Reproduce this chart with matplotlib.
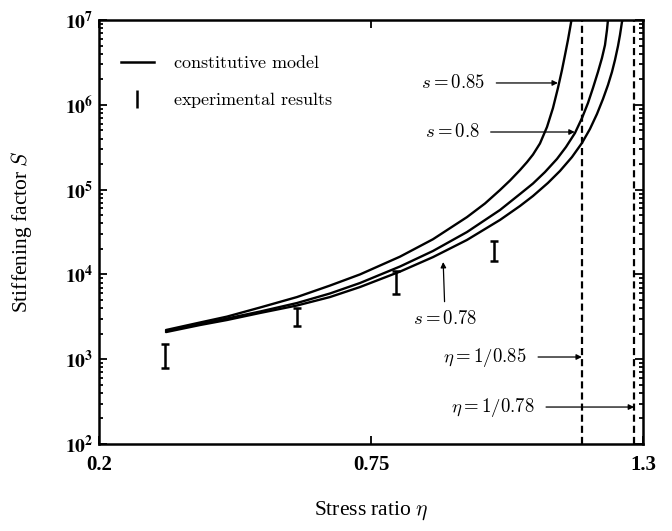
import matplotlib
matplotlib.use("Agg")
import matplotlib.pyplot as plt
from matplotlib.lines import Line2D
from matplotlib.ticker import LogLocator, NullFormatter

plt.rcParams['font.family'] = 'serif'
plt.rcParams['font.serif'] = ['Liberation Serif', 'DejaVu Serif']
plt.rcParams['mathtext.fontset'] = 'cm'

# constitutive model, points (stress ratio, stiffening factor)
eta_085 = [0.3355, 0.4042, 0.4588, 0.5256, 0.6004, 0.6671, 0.7278, 0.8087, 0.8754,
           0.9441, 0.9805, 1.0109, 1.0311, 1.0513, 1.0655, 1.0776, 1.0917, 1.1059,
           1.1180, 1.1281, 1.1362, 1.1423, 1.1483, 1.1544, 1.1564]
S_085 = [2210, 2710, 3180, 4070, 5410, 7390, 10000, 16200, 26000,
         47400, 68600, 98900, 128000, 170000, 211000, 259000, 350000, 547000,
         916000, 1.58e6, 2.57e6, 3.86e6, 5.81e6, 9.23e6, 1.08e7]

eta_080 = [0.3355, 0.4042, 0.4588, 0.5256, 0.6004, 0.6671, 0.7278, 0.8087, 0.8754,
           0.9441, 1.0109, 1.0513, 1.0776, 1.1018, 1.1261, 1.1443, 1.1625, 1.1767,
           1.1888, 1.1989, 1.2090, 1.2171, 1.2232, 1.2272, 1.2292]
S_080 = [2150, 2600, 3020, 3650, 4600, 5960, 7920, 12400, 18900,
         31600, 57500, 88700, 118000, 161000, 230000, 318000, 465000, 698000,
         1.05e6, 1.58e6, 2.44e6, 3.57e6, 5.07e6, 7.62e6, 1.0e7]

eta_078 = [0.3355, 0.4042, 0.4588, 0.5256, 0.6004, 0.6671, 0.7278, 0.8087, 0.8754,
           0.9441, 1.0109, 1.0513, 1.0776, 1.1079, 1.1322, 1.1564, 1.1767, 1.1928,
           1.2070, 1.2191, 1.2292, 1.2373, 1.2434, 1.2495, 1.2535, 1.2575, 1.2590]
S_078 = [2090, 2530, 2900, 3510, 4300, 5410, 7100, 10800, 16000,
         25500, 43900, 64100, 84100, 120000, 166000, 242000, 355000, 519000,
         780000, 1.17e6, 1.71e6, 2.44e6, 3.38e6, 4.93e6, 6.65e6, 9.47e6, 1.0e7]

# experimental results (low / high end of each bar)
eta_exp = [0.333, 0.600, 0.801, 0.999]
S_exp_lo = [790, 2450, 5900, 14400]
S_exp_hi = [1510, 4000, 11000, 24800]

eta_limits = [1 / 0.85, 1 / 0.78]

xticks = [0.2, 0.75, 1.3]
xtick_labels = ['0.2', '0.75', '1.3']
yticks = [1e2, 1e3, 1e4, 1e5, 1e6, 1e7]
ytick_labels = [r'$\mathbf{10^{%d}}$' % k for k in range(2, 8)]

fig = plt.figure(figsize=(6.72, 5.31), dpi=100)
ax = fig.add_axes([0.1473, 0.1638, 0.8095, 0.7985])

# model curves
for eta, S in [(eta_085, S_085), (eta_080, S_080), (eta_078, S_078)]:
    ax.plot(eta, S, color='black', lw=1.7, solid_capstyle='round',
            solid_joinstyle='round')

# experiments
ax.errorbar(eta_exp, S_exp_lo,
            yerr=[[0] * len(S_exp_lo), [h - l for h, l in zip(S_exp_hi, S_exp_lo)]],
            fmt='none', ecolor='black', elinewidth=1.8, capsize=3.2, capthick=1.8)

# asymptotes
for e in eta_limits:
    ax.axvline(e, color='black', lw=1.6, ls=(0, (3.2, 1.8)))

ax.set_yscale('log')
ax.set_xlim(0.2, 1.3)
ax.set_ylim(1e2, 1e7)

ax.set_xticks(xticks)
ax.set_xticklabels(xtick_labels, fontsize=15, fontweight='bold')
ax.set_yticks(yticks)
ax.set_yticklabels(ytick_labels, fontsize=14)
for t in ax.get_yticklabels():
    t.set_math_fontfamily('stix')
ax.yaxis.set_minor_locator(LogLocator(base=10, subs=range(2, 10), numticks=20))
ax.yaxis.set_minor_formatter(NullFormatter())
ax.tick_params(which='both', direction='in', top=True, right=True, width=1.3)
ax.tick_params(which='major', length=6, pad=4)
ax.tick_params(which='minor', length=3)
ax.tick_params(axis='x', pad=8)
for sp in ax.spines.values():
    sp.set_linewidth(1.8)

ax.set_xlabel(r'Stress ratio $\eta$', fontsize=15.5)
ax.xaxis.set_label_coords(0.5, -0.13)
ax.set_ylabel(r'Stiffening factor $S$', fontsize=15.5)
ax.yaxis.set_label_coords(-0.12, 0.5)

arrow = dict(arrowstyle='-|>', color='black', lw=0.9, mutation_scale=8,
             shrinkA=6, shrinkB=0)
fs = 13.5
ax.annotate(r'$s = 0.85$', xy=(1.128, 1.81e6), xytext=(0.916, 1.81e6),
            ha='center', va='center', fontsize=fs, arrowprops=arrow)
ax.annotate(r'$s = 0.8$', xy=(1.162, 4.78e5), xytext=(0.914, 4.78e5),
            ha='center', va='center', fontsize=fs, arrowprops=arrow)
ax.annotate(r'$s = 0.78$', xy=(0.896, 14000), xytext=(0.900, 2980),
            ha='center', va='center', fontsize=fs,
            arrowprops=dict(arrowstyle='-|>', color='black', lw=0.9,
                            mutation_scale=8, shrinkA=4, shrinkB=0))
ax.annotate(r'$\eta = 1/0.85$', xy=(eta_limits[0], 1062), xytext=(0.981, 1062),
            ha='center', va='center', fontsize=fs, arrowprops=arrow)
ax.annotate(r'$\eta = 1/0.78$', xy=(eta_limits[1], 273), xytext=(0.997, 273),
            ha='center', va='center', fontsize=fs, arrowprops=arrow)

# legend
h_model = Line2D([], [], color='black', lw=1.8)
h_exp = ax.errorbar([], [], yerr=[], fmt='none', ecolor='black',
                    elinewidth=1.8, capsize=3.2, capthick=1.8)
leg = ax.legend([h_model, h_exp], [r'$\mathrm{constitutive\ model}$',
                                   r'$\mathrm{experimental\ results}$'],
                loc='upper left', bbox_to_anchor=(0.01, 0.955), frameon=False,
                fontsize=13, handlelength=1.85, handletextpad=1.05, labelspacing=1.0)

fig.savefig('out.png', dpi=100)
